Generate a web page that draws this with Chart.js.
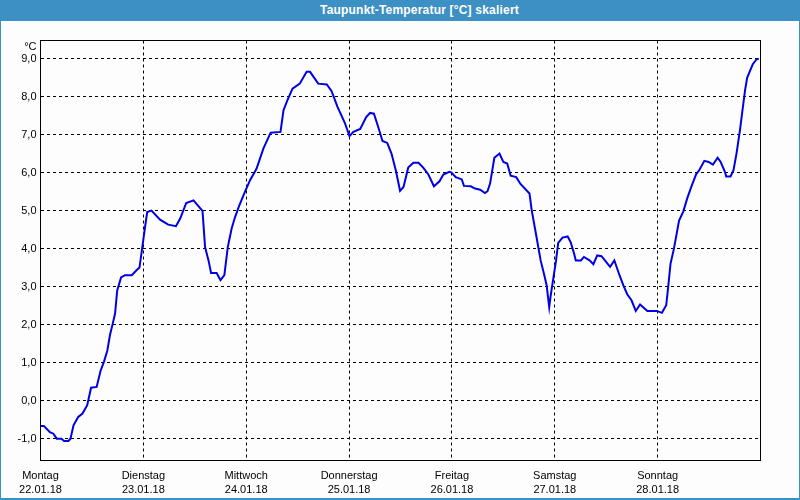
<!DOCTYPE html>
<html>
<head>
<meta charset="utf-8">
<script src="https://cdn.jsdelivr.net/npm/chart.js@4"></script>
<style>
body { margin: 0; }
#frame { position: relative; width: 800px; height: 500px; background: #3d90c4; }
#title { position: absolute; left: 39px; top: 3px; width: 761px; height: 16px; line-height: 16px; text-align: center;
         color: #fff; letter-spacing: 0.2px; font: bold 12px "Liberation Sans", sans-serif; }
#box { position: absolute; left: 1px; top: 21px; width: 798px; height: 477px; background: #fcfdfc; }
</style>
</head>
<body>
<div id="frame">
  <div id="title">Taupunkt-Temperatur [°C] skaliert</div>
  <div id="box"><canvas id="dewChart" width="798" height="477"></canvas></div>
</div>
<script>
// hours since Monday 00:00
var hours = [0, 0.8, 2.2, 3.0, 3.8, 4.9, 5.5, 6.5, 7.0, 7.7, 8.8, 9.8, 10.9, 11.8, 13.1, 14.0, 14.8, 15.6, 16.2, 16.8,
  17.4, 17.9, 18.8, 19.7, 21.3, 22.4, 23.1, 23.6, 24.4, 24.9, 25.9, 27.9, 29.8, 31.6, 32.6, 34.0, 35.7, 37.8, 38.4, 39.2,
  39.8, 41.1, 42.0, 42.9, 43.7, 44.6, 45.4, 46.4, 47.7, 48.9, 50.4, 52.0, 53.7, 56.0, 56.7, 57.6, 58.8, 60.5, 62.1, 62.9,
  64.8, 66.8, 67.9, 69.3, 71.0, 72.1, 73.0, 74.6, 76.0, 76.9, 77.8, 78.8, 79.8, 80.9, 81.9, 82.9, 83.9, 84.7, 85.8, 87.0,
  88.2, 89.3, 90.5, 91.8, 93.1, 94.0, 95.4, 95.9, 96.9, 98.3, 98.8, 100.4, 101.4, 102.6, 103.7, 104.3, 104.9, 105.9, 107.1, 108.0,
  108.9, 109.7, 111.0, 112.0, 114.1, 114.6, 115.6, 116.7, 117.6, 118.1, 118.7, 119.0, 119.7, 120.3, 120.8, 121.8, 123.0, 123.7, 124.5, 124.9,
  126.1, 126.8, 128.1, 129.0, 129.9, 130.9, 132.9, 133.9, 135.1, 136.0, 136.9, 137.9, 138.9, 139.9, 141.6, 143.8, 145.0, 146.0, 146.5, 147.0,
  147.8, 149.0, 150.0, 150.9, 152.0, 153.0, 153.7, 154.9, 155.9, 156.9, 158.0, 158.7, 159.7, 160.0, 161.0, 161.7, 162.4, 163.2, 163.8, 164.4,
  164.9, 165.6, 166.2, 167.0, 167.6];
var dewPoint = [-0.67, -0.67, -0.83, -0.87, -1.0, -1.0, -1.06, -1.06, -1.0, -0.65, -0.43, -0.34, -0.12, 0.34, 0.36, 0.78, 1.02, 1.32, 1.72, 2.0,
  2.29, 2.9, 3.24, 3.3, 3.3, 3.43, 3.5, 3.91, 4.57, 4.96, 5.0, 4.76, 4.63, 4.59, 4.79, 5.2, 5.27, 4.99, 4.04, 3.69,
  3.36, 3.36, 3.17, 3.3, 4.04, 4.53, 4.83, 5.14, 5.49, 5.8, 6.1, 6.63, 7.05, 7.07, 7.64, 7.9, 8.21, 8.34, 8.65, 8.65,
  8.34, 8.32, 8.15, 7.73, 7.31, 6.96, 7.07, 7.15, 7.46, 7.57, 7.55, 7.2, 6.83, 6.78, 6.5, 6.06, 5.52, 5.62, 6.13, 6.26,
  6.26, 6.13, 5.95, 5.64, 5.77, 5.95, 6.02, 6.0, 5.88, 5.82, 5.65, 5.64, 5.58, 5.55, 5.46, 5.51, 5.71, 6.39, 6.5, 6.28,
  6.24, 5.92, 5.88, 5.7, 5.45, 5.02, 4.39, 3.69, 3.28, 3.03, 2.46, 2.73, 3.25, 3.69, 4.15, 4.29, 4.32, 4.17, 3.87, 3.69,
  3.69, 3.78, 3.69, 3.59, 3.82, 3.8, 3.52, 3.69, 3.3, 3.03, 2.8, 2.64, 2.36, 2.53, 2.36, 2.36, 2.31, 2.51, 3.03, 3.6,
  4.0, 4.74, 4.98, 5.32, 5.67, 5.96, 6.06, 6.31, 6.28, 6.21, 6.39, 6.28, 6.02, 5.9, 5.9, 6.06, 6.5, 7.11, 7.64, 8.17,
  8.5, 8.69, 8.85, 8.97, 9.0];

var dayHours = [0, 24, 48, 72, 96, 120, 144];
var dayNames = ['Montag', 'Dienstag', 'Mittwoch', 'Donnerstag', 'Freitag', 'Samstag', 'Sonntag'];
var dayDates = ['22.01.18', '23.01.18', '24.01.18', '25.01.18', '26.01.18', '27.01.18', '28.01.18'];
var yTicks = [-1, 0, 1, 2, 3, 4, 5, 6, 7, 8, 9];
var yUnit = '°C';

var points = hours.map(function (h, i) { return { x: h, y: dewPoint[i] }; });
var tickFont = { family: 'Liberation Sans', size: 11, lineHeight: '14px' };

var frame = {
  id: 'frame',
  afterDatasetsDraw: function (chart) {
    var a = chart.chartArea, ctx = chart.ctx;
    ctx.save();
    ctx.strokeStyle = '#000';
    ctx.lineWidth = 1;
    ctx.strokeRect(a.left, a.top, a.right - a.left, a.bottom - a.top);
    ctx.fillStyle = '#000';
    ctx.font = '11px "Liberation Sans"';
    ctx.textAlign = 'right';
    ctx.textBaseline = 'middle';
    ctx.fillText(yUnit, a.left - 4, a.top + 6);
    ctx.restore();
  }
};

new Chart(document.getElementById('dewChart'), {
  type: 'line',
  data: {
    datasets: [{
      data: points,
      borderColor: '#0000e6',
      borderWidth: 2,
      pointRadius: 0,
      tension: 0,
      fill: false
    }]
  },
  options: {
    responsive: false,
    animation: false,
    devicePixelRatio: 1,
    layout: { padding: { left: 0, top: 19.5, right: 38.5, bottom: 0 } },
    plugins: { legend: { display: false }, tooltip: { enabled: false } },
    scales: {
      x: {
        type: 'linear', min: 0, max: 168,
        afterBuildTicks: function (s) { s.ticks = dayHours.map(function (v) { return { value: v }; }); },
        afterFit: function (s) { s.height = 37.5; },
        ticks: {
          autoSkip: false, maxRotation: 0, padding: 8, color: '#000', font: tickFont,
          callback: function (v) { var i = dayHours.indexOf(v); return [dayNames[i], dayDates[i]]; }
        },
        grid: { color: '#000', lineWidth: 1, drawTicks: false },
        border: { display: false, dash: [3, 3] }
      },
      y: {
        min: -1.575, max: 9.475,
        afterBuildTicks: function (s) { s.ticks = yTicks.map(function (v) { return { value: v }; }); },
        afterFit: function (s) { s.width = 39.5; },
        ticks: {
          padding: 4, color: '#000', font: tickFont,
          callback: function (v) { return v.toFixed(1).replace('.', ','); }
        },
        grid: { color: '#000', lineWidth: 1, drawTicks: false },
        border: { display: false, dash: [3, 3] }
      }
    }
  },
  plugins: [frame]
});
</script>
</body>
</html>
